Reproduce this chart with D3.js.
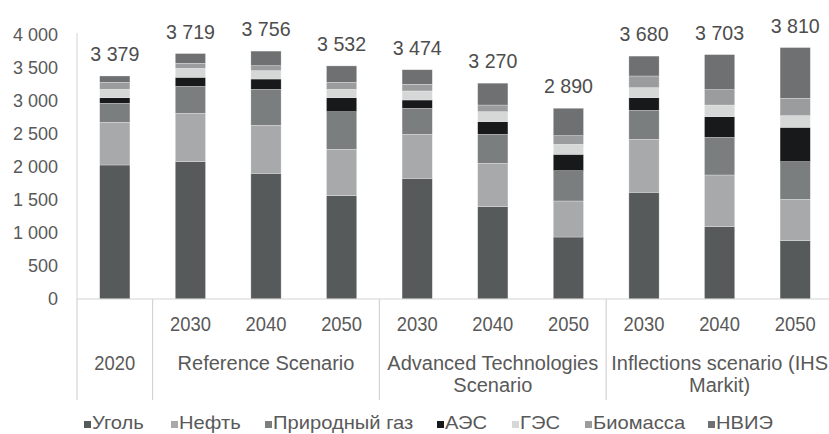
<!DOCTYPE html>
<html>
<head>
<meta charset="utf-8">
<script src="https://cdn.jsdelivr.net/npm/d3@7"></script>
<style>
  html, body { margin: 0; padding: 0; background: #fff; }
  svg { display: block; font-family: "Liberation Sans", Arial, sans-serif; }
</style>
</head>
<body>
<svg id="chart" width="829" height="434"></svg>
<script>
// Generation mix by source, stacked per scenario and year
const years = ["", "2030", "2040", "2050", "2030", "2040", "2050", "2030", "2040", "2050"];
const groupOf = [0, 1, 1, 1, 2, 2, 2, 3, 3, 3];
const groupLines = [
  ["2020"],
  ["Reference Scenario"],
  ["Advanced Technologies", "Scenario"],
  ["Inflections scenario (IHS", "Markit)"]
];

const seriesNames = ["Уголь", "Нефть", "Природный газ", "АЭС", "ГЭС", "Биомасса", "НВИЭ"];
const coal       = [2030, 2081, 1904, 1566, 1828, 1399,  939, 1616, 1096,  884];
const oil        = [ 647,  732,  727,  702,  667,  657,  546,  803,  783,  626];
const gas        = [ 288,  409,  546,  570,  394,  439,  459,  440,  570,  571];
const nuclear    = [  85,  137,  156,  212,  126,  192,  248,  191,  314,  520];
const hydro      = [ 127,  136,  127,  127,  137,  151,  151,  152,  176,  177];
const biomass    = [ 106,   76,   75,  106,  101,  101,  132,  177,  233,  262];
const renewables = [  96,  148,  221,  249,  221,  331,  415,  301,  531,  770];

const yTicks = [0, 500, 1000, 1500, 2000, 2500, 3000, 3500, 4000];

const seriesValues = [coal, oil, gas, nuclear, hydro, biomass, renewables];
const colors = ["#575a5b", "#a7a9aa", "#7b7e7f", "#17191b", "#d6d7d7", "#9a9c9d", "#6e7072"];

const svg = d3.select("#chart");
const textColor = "#595959";
const axisColor = "#d4d4d4";

const idx = d3.range(years.length);
const rows = idx.map(i => {
  const r = { i };
  seriesNames.forEach((s, k) => { r[s] = seriesValues[k][i]; });
  return r;
});
const stacked = d3.stack().keys(seriesNames)(rows);
const totals = idx.map(i => d3.sum(seriesValues, v => v[i]));

const x = d3.scaleBand().domain(idx).range([77, 833]).paddingInner(0.6).paddingOuter(0.3);
const y = d3.scaleLinear().domain([0, 4000]).range([299, 35]);
const color = d3.scaleOrdinal().domain(seriesNames).range(colors);
const fmt = d3.formatLocale({ decimal: ",", thousands: " ", grouping: [3], currency: ["", ""] }).format(",d");

// Y axis: labels only, with a light rule on the left of the plot
const yAxis = d3.axisLeft(y).tickValues(yTicks).tickFormat(fmt).tickSize(0).tickPadding(19);
const gy = svg.append("g").attr("transform", "translate(77,0)").call(yAxis);
gy.select(".domain").attr("stroke", axisColor).attr("d", `M0,${y(4000) - 2}V${y(0)}`);
gy.selectAll("text").attr("fill", textColor).attr("font-size", 18).attr("font-family", "Liberation Sans, Arial, sans-serif");

// Stacked bars
svg.append("g").selectAll("g").data(stacked).join("g")
  .attr("fill", d => color(d.key))
  .selectAll("rect").data(d => d).join("rect")
  .attr("x", d => x(d.data.i))
  .attr("width", x.bandwidth())
  .attr("y", d => y(d[1]))
  .attr("height", d => y(d[0]) - y(d[1]))
  .attr("stroke", "rgba(255,255,255,0.45)")
  .attr("stroke-width", 0.6);

// Totals above the bars
svg.append("g").selectAll("text").data(idx).join("text")
  .attr("transform", i => `translate(${x(i) + x.bandwidth() / 2},${y(totals[i]) - 15}) scale(0.98,1)`)
  .attr("text-anchor", "middle")
  .attr("font-size", 20)
  .attr("fill", "#4d4d4d")
  .text(i => fmt(totals[i]));

// Category axis: baseline, group separators, year row and group row
svg.append("line").attr("x1", 77).attr("x2", 833).attr("y1", y(0)).attr("y2", y(0))
  .attr("stroke", axisColor).attr("stroke-width", 1.2);

const groupIdx = d3.range(groupLines.length);
const groupExtent = groupIdx.map(g => {
  const members = idx.filter(i => groupOf[i] === g);
  const left = x(members[0]) - x.step() * x.paddingInner() / 2;
  const right = x(members[members.length - 1]) + x.bandwidth() + x.step() * x.paddingInner() / 2;
  return [left, right];
});
const edges = [groupExtent[0][0], ...groupExtent.map(e => e[1])];
svg.append("g").selectAll("line").data(edges).join("line")
  .attr("x1", d => d).attr("x2", d => d)
  .attr("y1", y(0)).attr("y2", 400)
  .attr("stroke", axisColor).attr("stroke-width", 1.2);

svg.append("g").selectAll("text").data(idx.filter(i => years[i])).join("text")
  .attr("transform", i => `translate(${x(i) + x.bandwidth() / 2},331) scale(0.92,1)`)
  .attr("text-anchor", "middle")
  .attr("font-size", 20)
  .attr("fill", textColor)
  .text(i => years[i]);

groupIdx.forEach(g => {
  const cx = (groupExtent[g][0] + groupExtent[g][1]) / 2;
  groupLines[g].forEach((line, k) => {
    svg.append("text")
      .attr("transform", `translate(${cx},${370 + k * 22}) scale(${g === 0 ? 0.92 : 1},1)`)
      .attr("text-anchor", "middle")
      .attr("font-size", 20)
      .attr("fill", textColor)
      .text(line);
  });
});

// Legend
const legendX = [84, 171, 265, 437, 512, 585, 708];
const lg = svg.append("g").selectAll("g").data(seriesNames).join("g")
  .attr("transform", (d, k) => `translate(${legendX[k]},429)`);
lg.append("rect").attr("x", 0).attr("y", -8).attr("width", 7).attr("height", 7)
  .attr("fill", d => color(d));
lg.append("text").attr("transform", "translate(8,0) scale(1.12,1)").attr("font-size", 18).attr("fill", textColor)
  .text(d => d);
</script>
</body>
</html>
